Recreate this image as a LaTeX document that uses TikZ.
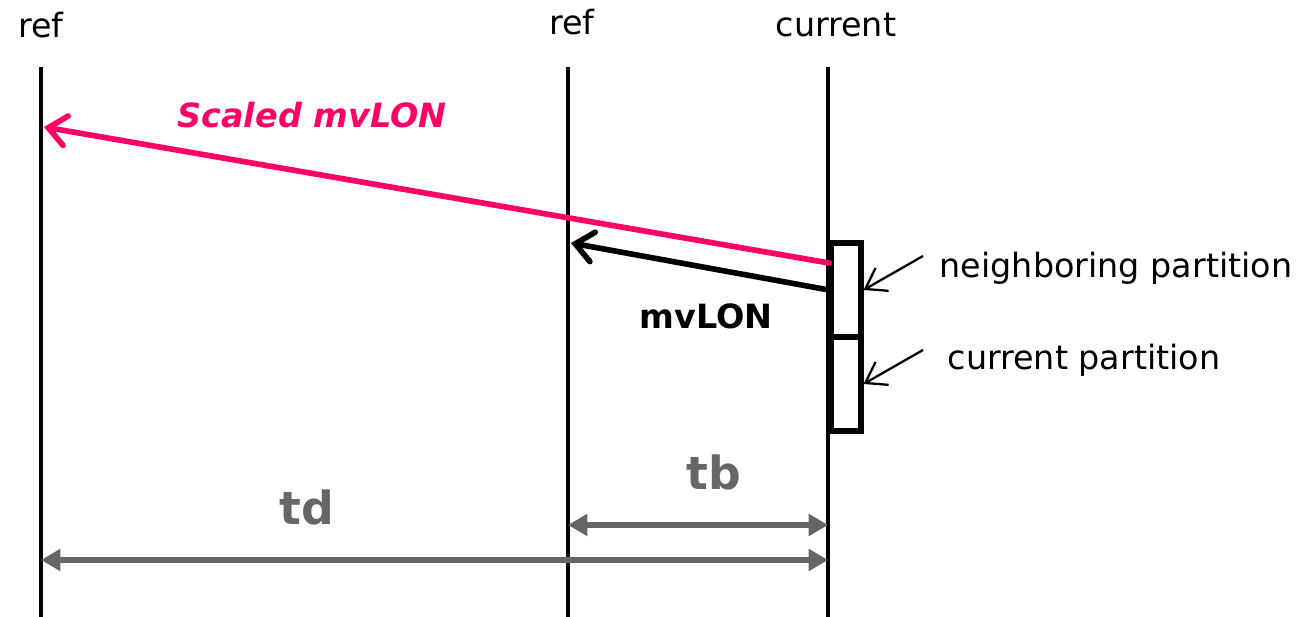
\documentclass[tikz,border=0pt]{standalone}
\usepackage{fontspec}
\setmainfont{DejaVu Sans}
\usetikzlibrary{arrows.meta, positioning}
\definecolor{mvpink}{HTML}{FF0066}
\definecolor{dimgray}{HTML}{666666}

\begin{document}
\begin{tikzpicture}[x=0.02cm, y=-0.02cm,
  tline/.style={line width=1.8pt},
  lbl/.style={font=\fontsize{19}{21}\selectfont, inner sep=0pt},
  vec/.style={-{Straight Barb[length=10pt, width=17pt, line cap=round]}, line width=3.2pt, line cap=round},
  part/.style={draw, line width=2.9pt, minimum width=0.6cm, minimum height=1.88cm, inner sep=0pt},
  ptr/.style={-{Straight Barb[length=11pt, width=15pt]}, line width=1.3pt},
  dist/.style={{Triangle[length=11pt, width=12pt]}-{Triangle[length=11pt, width=12pt]}, line width=3.2pt, dimgray}
]
  \useasboundingbox (0,0) rectangle (1301,617);

  % ----- time lines -----
  \coordinate (refA) at (41,67);   \coordinate (refAbot) at (41,617);
  \coordinate (refB) at (568,67);  \coordinate (refBbot) at (568,617);
  \coordinate (cur)  at (828,67);  \coordinate (curbot)  at (828,617);
  \draw[tline] (refA) -- (refAbot);
  \draw[tline] (refB) -- (refBbot);
  \draw[tline] (cur) -- (curbot);

  \node[lbl] (refAlbl) at (41,25) {ref};
  \node[lbl] (refBlbl) at (572,22) {ref};
  \node[lbl] (curlbl)  at (836,25) {current};

  % ----- partitions -----
  \node[part] (nbpart)  at (846,290) {};
  \node[part] (curpart) at (846,384) {};
  \node[lbl] (nblbl)   at (1116,268) {neighboring partition};
  \node[lbl] (curplbl) at (1084,360) {current partition};
  \coordinate (nbfrom) at (923,256);
  \coordinate (cpfrom) at (923,350);
  \draw[ptr] (nbfrom) -- (nbpart.east);
  \draw[ptr] (cpfrom) -- (curpart.east);

  % ----- motion vectors -----
  \coordinate (mvA) at (829,263);  \coordinate (mvAtip) at (44,127);
  \coordinate (mvB) at (829,290);  \coordinate (mvBtip) at (571,243);
  \draw[vec, mvpink] (mvA) -- (mvAtip);
  \draw[vec] (mvB) -- (mvBtip);
  \node[lbl, mvpink, font=\fontsize{19}{21}\selectfont\bfseries\itshape] (scl) at (312,115) {Scaled mvLON};
  \node[lbl, font=\fontsize{19}{21}\selectfont\bfseries] (mv) at (706,316) {mvLON};

  % ----- distances -----
  \coordinate (tbL) at (568,525);  \coordinate (tbR) at (828,525);
  \coordinate (tdL) at (41,560);   \coordinate (tdR) at (828,560);
  \draw[dist] (tbL) -- (tbR);
  \draw[dist] (tdL) -- (tdR);
  \node[lbl, dimgray, font=\fontsize{26}{28}\selectfont\bfseries] (tb) at (714,472) {tb};
  \node[lbl, dimgray, font=\fontsize{26}{28}\selectfont\bfseries] (td) at (307,507) {td};
\end{tikzpicture}
\end{document}
